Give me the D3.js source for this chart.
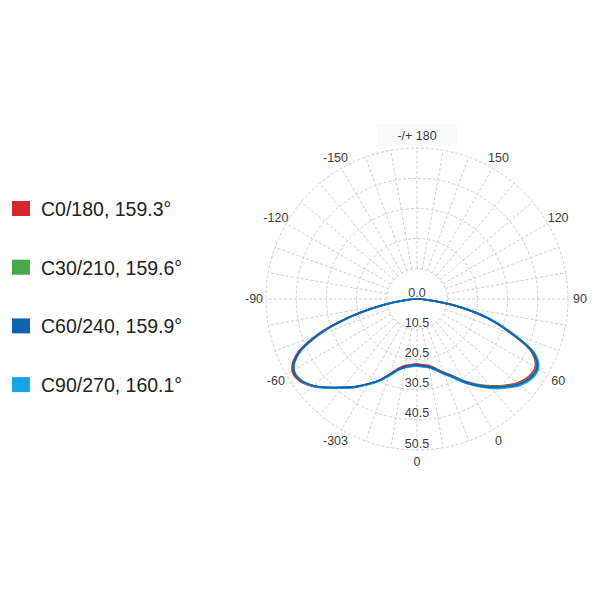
<!DOCTYPE html>
<html lang="en">
<head>
    <meta charset="UTF-8">
    <title>Polar Intensity</title>
    <script src="https://cdn.jsdelivr.net/npm/d3@7"></script>
    <style>
        body { margin: 0; background: #fff; }
        svg { display: block; }
        .grid { fill: none; stroke: #cfcfcf; stroke-width: 1; stroke-dasharray: 3,2; }
        .alabel, .rlabel { font-family: "Liberation Sans", Arial, sans-serif; font-size: 12.5px; fill: #3c3c3c; }
        .legend text { font-family: "Liberation Sans", Arial, sans-serif; font-size: 19.5px; fill: #222; }
    </style>
</head>
<body>
<svg width="600" height="600"></svg>
<script>
    // gamma angles (0 = straight down)
    var gammas = [-90, -85, -80, -75, -70, -65, -60, -55, -50, -45, -40, -35, -30, -25, -20, -15, -10, -5,
        0, 5, 10, 15, 20, 25, 30, 35, 40, 45, 50, 55, 60, 65, 70, 75, 80, 85, 90];
    var c0 = [0, 3.8, 11.9, 23.5, 35.6, 44.2, 47.7, 47.4, 45.0, 41.7, 38.4, 35.6, 32.6, 29.8, 26.5, 23.8, 22.4, 21.8,
        21.5, 21.9, 22.4, 23.8, 25.8, 28.1, 31.4, 34.5, 37.5, 40.5, 43.3, 45.0, 45.2, 42.0, 32.9, 23.7, 12.7, 3.1, 0];
    var c30 = [0, 3.4, 11.4, 23.0, 35.0, 43.6, 47.1, 46.9, 44.7, 41.5, 38.3, 35.5, 32.6, 29.9, 26.9, 24.3, 22.9, 22.3,
        22.0, 22.4, 22.8, 24.1, 26.1, 28.3, 31.6, 34.7, 37.8, 40.8, 43.7, 45.4, 45.6, 42.5, 33.3, 24.0, 13.0, 3.3, 0];
    var c60 = [0, 3.3, 11.2, 22.8, 34.9, 43.6, 47.2, 47.0, 44.7, 41.4, 38.2, 35.4, 32.5, 29.8, 26.8, 24.2, 22.8, 22.2,
        21.9, 22.3, 22.8, 24.2, 26.2, 28.5, 31.8, 34.9, 38.1, 41.1, 44.0, 45.7, 45.9, 42.7, 33.5, 24.2, 13.1, 3.3, 0];
    var c90 = [0, 3.1, 10.8, 22.4, 34.5, 43.3, 47.0, 47.0, 44.9, 41.7, 38.5, 35.7, 32.8, 30.1, 27.1, 24.5, 23.1, 22.5,
        22.2, 22.6, 23.1, 24.5, 26.5, 28.9, 32.2, 35.3, 38.6, 41.6, 44.5, 46.2, 46.4, 43.2, 34.0, 24.7, 13.5, 3.5, 0];

    var seriesNames = ["C0/180, 159.3°", "C30/210, 159.6°", "C60/240, 159.9°", "C90/270, 160.1°"];
    var seriesColors = ["#d7262d", "#47a947", "#0f63b3", "#14a5e6"];
    var seriesValues = [c0, c30, c60, c90];

    var ringValues = [0, 10, 20, 30, 40, 50];
    var ringLabels = ["0.0", "10.5", "20.5", "30.5", "40.5", "50.5"];
    var tickAngles = [180, 150, 120, 90, 60, 30, 0, -30, -60, -90, -120, -150];
    var tickLabels = ["-/+ 180", "150", "120", "90", "60", "0", "0", "-303", "-60", "-90", "-120", "-150"];

    var svg = d3.select("svg");
    var cx = 417, cy = 299, R = 151;

    var r = d3.scaleLinear().domain([0, 50]).range([0, R]);
    // gamma -> d3 radial angle (0 at top, clockwise)
    var toAngle = function (g) { return Math.PI - g * Math.PI / 180; };

    var g = svg.append("g").attr("transform", "translate(" + cx + "," + cy + ")");

    // faint box behind top label
    g.append("rect")
        .attr("x", -40).attr("y", -R - 24).attr("width", 80).attr("height", 22)
        .attr("fill", "#f9fafb");

    // rings
    g.selectAll(".ring")
        .data(ringValues.slice(1))
        .enter().append("circle")
        .attr("class", "grid")
        .attr("r", function (d) { return r(d); });

    // spokes every 10 degrees
    var spokes = d3.range(0, 360, 10);
    g.selectAll(".spoke")
        .data(spokes)
        .enter().append("line")
        .attr("class", "grid")
        .attr("x1", function (d) { return r(10) * Math.sin(d * Math.PI / 180); })
        .attr("y1", function (d) { return -r(10) * Math.cos(d * Math.PI / 180); })
        .attr("x2", function (d) { return R * Math.sin(d * Math.PI / 180); })
        .attr("y2", function (d) { return -R * Math.cos(d * Math.PI / 180); });

    // angle labels
    g.selectAll(".alabel")
        .data(tickAngles)
        .enter().append("text")
        .attr("class", "alabel")
        .attr("text-anchor", "middle")
        .attr("dy", "0.35em")
        .attr("x", function (d) { return (R + 12) * Math.sin(toAngle(d)); })
        .attr("y", function (d) { return -(R + 12) * Math.cos(toAngle(d)); })
        .text(function (d, i) { return tickLabels[i]; });

    // ring labels along the 0 direction
    g.selectAll(".rlabel")
        .data(ringValues)
        .enter().append("text")
        .attr("class", "rlabel")
        .attr("text-anchor", "middle")
        .attr("x", 0)
        .attr("y", function (d) { return r(d) - 2.5; })
        .text(function (d, i) { return ringLabels[i]; });

    // curves
    var line = d3.lineRadial()
        .angle(function (d) { return toAngle(d[0]); })
        .radius(function (d) { return r(d[1]); })
        .curve(d3.curveCatmullRom);

    seriesValues.forEach(function (vals, k) {
        var pts = gammas.map(function (gm, i) { return [gm, vals[i]]; });
        g.append("path")
            .attr("d", line(pts))
            .attr("fill", "none")
            .attr("stroke", seriesColors[k])
            .attr("stroke-width", 1.7)
            .attr("stroke-linejoin", "round");
    });
    // redraw C60 on top, like the original
    g.append("path")
        .attr("d", line(gammas.map(function (gm, i) { return [gm, c60[i]]; })))
        .attr("fill", "none")
        .attr("stroke", seriesColors[2])
        .attr("stroke-width", 1.7);

    // legend
    var legend = svg.append("g").attr("class", "legend");
    var item = legend.selectAll("g")
        .data(seriesNames)
        .enter().append("g")
        .attr("transform", function (d, i) { return "translate(12," + (201 + i * 58.7) + ")"; });
    item.append("rect")
        .attr("width", 18).attr("height", 15)
        .attr("fill", function (d, i) { return seriesColors[i]; });
    item.append("text")
        .attr("x", 29).attr("y", 15)
        .text(function (d) { return d; });
</script>
</body>
</html>
